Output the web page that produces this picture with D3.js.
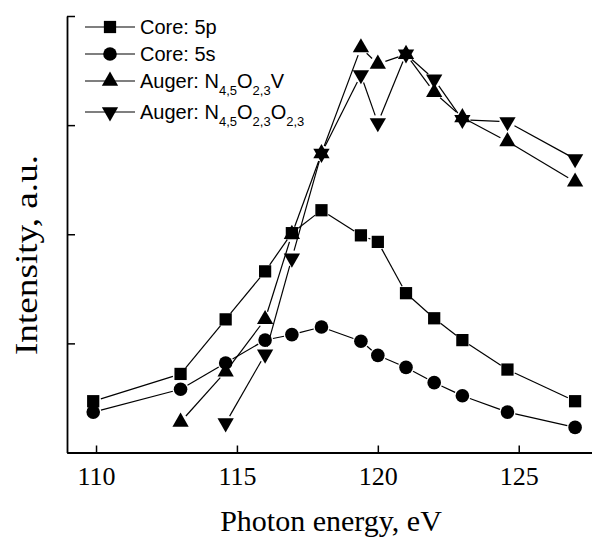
<!DOCTYPE html>
<html lang="en">
<head>
  <meta charset="UTF-8">
  <title>Photon energy</title>
  <script src="https://d3js.org/d3.v7.min.js"></script>
  <style>
    html, body {
      margin: 0;
      background-color: #ffffff;
      overflow: hidden;
    }
    .tick text {
      font-family: 'Liberation Serif', 'Times New Roman', serif;
    }
  </style>
</head>
<body>
  <div id="chart"></div>

  <script type="text/javascript">
    // photon energy (eV) for each measurement
    const energies = [109.9, 113, 114.6, 116, 116.95, 118, 119.4, 120, 121, 122, 123, 124.6, 127]

    const core5p = [0.47, 0.72, 1.22, 1.66, 2.01, 2.22, 1.99, 1.93, 1.46, 1.23, 1.03, 0.76, 0.47]
    const core5s = [0.37, 0.58, 0.82, 1.03, 1.08, 1.15, 1.02, 0.89, 0.78, 0.64, 0.52, 0.37, 0.23]
    // Auger lines start later, energies from 113 / 114.6 on
    const augerVEnergies = [113, 114.6, 116, 116.95, 118, 119.4, 120, 121, 122, 123, 124.6, 127]
    const augerV = [0.28, 0.74, 1.22, 2.0, 2.74, 3.71, 3.56, 3.65, 3.3, 3.07, 2.85, 2.48]
    const augerOEnergies = [114.6, 116, 116.95, 118, 119.4, 120, 121, 122, 123, 124.6, 127]
    const augerO = [0.27, 0.9, 1.78, 2.74, 3.46, 3.02, 3.65, 3.42, 3.05, 3.03, 2.69]

    const xTicks = [110, 115, 120, 125]
    const yTicks = [0, 1, 2, 3, 4]

    const series = [
      { label: ['Core: 5p'], symbol: 'square', xs: energies, ys: core5p },
      { label: ['Core: 5s'], symbol: 'circle', xs: energies, ys: core5s },
      { label: ['Auger: N', '4,5', 'O', '2,3', 'V'], symbol: 'up', xs: augerVEnergies, ys: augerV },
      { label: ['Auger: N', '4,5', 'O', '2,3', 'O', '2,3'], symbol: 'down', xs: augerOEnergies, ys: augerO },
    ]

    const width = 592
    const height = 537
    const plotLeft = 67
    const plotBottom = 452.5
    const plotTop = 16

    const svg = d3.select('#chart').append('svg')
      .attr('width', width)
      .attr('height', height)

    const x = d3.scaleLinear().domain([108.97, 127.6]).range([plotLeft, width])
    const y = d3.scaleLinear().domain([0, 4]).range([plotBottom, plotTop])

    const markerPath = (kind) => {
      if (kind === 'square') return d3.symbol(d3.symbolSquare, 150)()
      if (kind === 'circle') return d3.symbol(d3.symbolCircle, 145)()
      return d3.symbol(d3.symbolTriangle, 115)()
    }

    // axes
    svg.append('g')
      .attr('transform', `translate(0,${plotBottom})`)
      .call(d3.axisBottom(x).tickValues(xTicks).tickSize(-7).tickSizeOuter(0).tickPadding(14))
      .call(g => g.select('.domain').attr('stroke-width', 1.8))
      .call(g => g.selectAll('.tick line').attr('stroke-width', 1.5))
      .call(g => g.selectAll('.tick text').attr('font-size', 26).attr('fill', '#000'))

    svg.append('g')
      .attr('transform', `translate(${plotLeft},0)`)
      .call(d3.axisLeft(y).tickValues(yTicks).tickSize(-8).tickSizeOuter(0).tickFormat(''))
      .call(g => g.select('.domain').attr('stroke-width', 1.8))
      .call(g => g.selectAll('.tick line').attr('stroke-width', 1.5))

    // axis titles
    svg.append('text')
      .attr('x', 331)
      .attr('y', 531)
      .attr('text-anchor', 'middle')
      .style('font-family', "'Liberation Serif', 'Times New Roman', serif")
      .style('font-size', '30px')
      .text('Photon energy, eV')

    // the source figure is a little stretched vertically
    svg.append('text')
      .attr('transform', 'translate(37,255) rotate(-90) scale(1.2,1)')
      .attr('text-anchor', 'middle')
      .style('font-family', "'Liberation Serif', 'Times New Roman', serif")
      .style('font-size', '31px')
      .text('Intensity, a.u.')

    // lines with small gaps next to the markers
    const gap = 8
    series.forEach((s) => {
      const pts = s.xs.map((v, i) => [x(v), y(s.ys[i])])
      const segs = d3.pairs(pts).map(([a, b]) => {
        const dx = b[0] - a[0]
        const dy = b[1] - a[1]
        const len = Math.hypot(dx, dy)
        const ux = dx / len
        const uy = dy / len
        return [a[0] + ux * gap, a[1] + uy * gap, b[0] - ux * gap, b[1] - uy * gap, len]
      }).filter(d => d[4] > gap * 2)

      svg.append('g')
        .selectAll('line')
        .data(segs)
        .enter()
        .append('line')
        .attr('x1', d => d[0])
        .attr('y1', d => d[1])
        .attr('x2', d => d[2])
        .attr('y2', d => d[3])
        .attr('stroke', '#000')
        .attr('stroke-width', 1.2)
    })

    series.forEach((s) => {
      svg.append('g')
        .selectAll('path')
        .data(s.xs.map((v, i) => [x(v), y(s.ys[i])]))
        .enter()
        .append('path')
        .attr('d', markerPath(s.symbol))
        .attr('transform', d => `translate(${d[0]},${d[1]})` + (s.symbol === 'down' ? ' rotate(180)' : ''))
        .attr('fill', '#000')
    })

    // legend
    const rowY = [27, 54, 81, 112]
    const legend = svg.append('g')
      .style('font-family', "'Liberation Sans', Arial, sans-serif")

    series.forEach((s, i) => {
      const row = legend.append('g').attr('transform', `translate(0,${rowY[i]})`)
      row.append('line')
        .attr('x1', 85).attr('x2', 135)
        .attr('y1', 0).attr('y2', 0)
        .attr('stroke', '#000')
        .attr('stroke-width', 1.2)
      row.append('path')
        .attr('d', markerPath(s.symbol))
        .attr('transform', 'translate(110,0)' + (s.symbol === 'down' ? ' rotate(180)' : ''))
        .attr('fill', '#000')
      const t = row.append('text')
        .attr('x', 140)
        .attr('y', 7)
        .style('font-size', '20px')
      s.label.forEach((part, j) => {
        const sub = j % 2 === 1
        t.append('tspan')
          .attr('dy', sub ? 7 : (j > 0 ? -7 : 0))
          .style('font-size', sub ? '13px' : '20px')
          .text(part)
      })
    })
  </script>
</body>
</html>
